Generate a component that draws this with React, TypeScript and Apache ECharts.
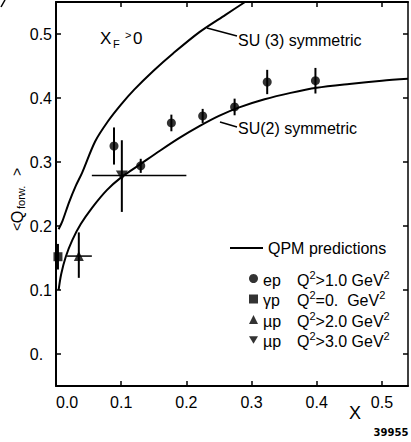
import { useEffect, useRef } from 'react';
import * as echarts from 'echarts';

const FONT = '"Liberation Sans", Arial, sans-serif';

const xTicks = [0, 0.1, 0.2, 0.3, 0.4, 0.5];
const yTicks = [0, 0.1, 0.2, 0.3, 0.4, 0.5];

// QPM predictions
const su3X = [0.004, 0.01, 0.02, 0.03, 0.04, 0.06, 0.08, 0.1, 0.12, 0.15, 0.18, 0.22, 0.26, 0.29];
const su3Y = [0.195, 0.208, 0.237, 0.262, 0.283, 0.332, 0.364, 0.39, 0.413, 0.443, 0.47, 0.503, 0.53, 0.55];
const su2X = [0.004, 0.008, 0.015, 0.025, 0.038, 0.055, 0.078, 0.1, 0.13, 0.16, 0.19, 0.22, 0.25, 0.28, 0.32, 0.36, 0.4, 0.45, 0.5, 0.54];
const su2Y = [0.1, 0.125, 0.152, 0.178, 0.203, 0.228, 0.256, 0.276, 0.297, 0.318, 0.338, 0.356, 0.372, 0.385, 0.398, 0.408, 0.416, 0.422, 0.427, 0.43];

// ep  Q2 > 1.0 GeV2
const epX = [0.089, 0.13, 0.177, 0.225, 0.274, 0.324, 0.398];
const epY = [0.325, 0.294, 0.361, 0.372, 0.386, 0.425, 0.427];
const epErr = [0.029, 0.011, 0.013, 0.011, 0.013, 0.019, 0.02];

// gamma p  Q2 = 0
const gpX = [0.003];
const gpY = [0.152];
const gpErr = [0.02];

// mu p  Q2 > 2.0
const mu2X = [0.035];
const mu2Y = [0.153];
const mu2XLo = [0.017];
const mu2XHi = [0.055];
const mu2YLo = [0.119];
const mu2YHi = [0.19];

// mu p  Q2 > 3.0
const mu3X = [0.101];
const mu3Y = [0.279];
const mu3XLo = [0.055];
const mu3XHi = [0.2];
const mu3YLo = [0.222];
const mu3YHi = [0.334];

const NAME_EP = 'ep|Q|>1.0 GeV';
const NAME_GP = 'γp|Q|=0.  GeV';
const NAME_MU2 = 'µp|Q|>2.0 GeV';
const NAME_MU3 = 'µp|Q|>3.0 GeV';

const DOWN_TRIANGLE = 'path://M0,0 L12,0 L6,10 Z';

export default function App() {
  const ref = useRef<HTMLDivElement>(null);

  useEffect(() => {
    if (!ref.current) return;
    const chart = echarts.init(ref.current, null, { renderer: 'svg' });

    const errData: number[][] = [];
    epX.forEach((x, i) => errData.push([x, epY[i], x, x, epY[i] - epErr[i], epY[i] + epErr[i]]));
    gpX.forEach((x, i) => errData.push([x, gpY[i], x, x, gpY[i] - gpErr[i], gpY[i] + gpErr[i]]));
    mu2X.forEach((x, i) => errData.push([x, mu2Y[i], mu2XLo[i], mu2XHi[i], mu2YLo[i], mu2YHi[i]]));
    mu3X.forEach((x, i) => errData.push([x, mu3Y[i], mu3XLo[i], mu3XHi[i], mu3YLo[i], mu3YHi[i]]));

    const black = '#000';
    const axisCommon = {
      type: 'value' as const,
      axisLine: { show: true, onZero: false, lineStyle: { color: black, width: 2 } },
      splitLine: { show: false },
    };

    const option: any = {
      animation: false,
      backgroundColor: '#fff',
      textStyle: { fontFamily: FONT, color: black },
      grid: { left: 56, right: 3, top: 2, bottom: 56, containLabel: false },
      xAxis: [
        {
          ...axisCommon,
          position: 'bottom',
          min: 0,
          max: 0.54,
          axisTick: { show: true, inside: true, length: 5, customValues: xTicks, lineStyle: { color: black, width: 1.5 } },
          axisLabel: {
            customValues: xTicks,
            formatter: (v: number) => v.toFixed(1),
            fontSize: 16,
            color: black,
            fontFamily: FONT,
            margin: 8,
            alignMinLabel: 'left',
          },
        },
        {
          ...axisCommon,
          position: 'top',
          min: 0,
          max: 0.54,
          axisTick: { show: true, inside: true, length: 5, customValues: xTicks, lineStyle: { color: black, width: 1.5 } },
          axisLabel: { show: false },
        },
      ],
      yAxis: [
        {
          ...axisCommon,
          position: 'left',
          min: -0.05,
          max: 0.55,
          axisTick: { show: true, inside: true, length: 5, customValues: yTicks, lineStyle: { color: black, width: 1.5 } },
          axisLabel: {
            customValues: yTicks,
            formatter: (v: number) => (Math.abs(v) < 1e-9 ? '0.  ' : v.toFixed(1)),
            fontSize: 16,
            color: black,
            fontFamily: FONT,
            margin: 4,
          },
        },
        {
          ...axisCommon,
          position: 'right',
          min: -0.05,
          max: 0.55,
          axisLine: { show: true, onZero: false, lineStyle: { color: black, width: 1.5 } },
          axisTick: { show: true, inside: true, length: 5, customValues: yTicks, lineStyle: { color: black, width: 1.5 } },
          axisLabel: { show: false },
        },
      ],
      legend: [
        {
          data: ['QPM predictions'],
          left: 230,
          top: 240,
          padding: 0,
          icon: 'rect',
          itemWidth: 33,
          itemHeight: 2,
          selectedMode: false,
          textStyle: { fontSize: 16, color: black, fontFamily: FONT },
        },
        {
          data: [NAME_EP, NAME_GP, NAME_MU2, NAME_MU3],
          orient: 'vertical',
          left: 249,
          top: 269,
          padding: 0,
          itemWidth: 9,
          itemHeight: 9,
          itemGap: 1.5,
          selectedMode: false,
          formatter: (name: string) => {
            const [p, q, r] = name.split('|');
            return `{a|${p}}{b|${q}}{s|2}{b|${r}}{s|2}`;
          },
          textStyle: {
            fontSize: 16,
            color: black,
            fontFamily: FONT,
            rich: {
              a: { width: 34, fontSize: 16, lineHeight: 19, color: black, fontFamily: FONT, verticalAlign: 'bottom' },
              b: { fontSize: 16, lineHeight: 19, color: black, fontFamily: FONT, verticalAlign: 'bottom' },
              s: { fontSize: 11, lineHeight: 11, color: black, fontFamily: FONT, verticalAlign: 'top' },
            },
          },
        },
      ],
      series: [
        {
          name: 'QPM predictions',
          type: 'line',
          data: su3X.map((x, i) => [x, su3Y[i]]),
          smooth: 0.3,
          showSymbol: false,
          symbol: 'none',
          lineStyle: { color: black, width: 2 },
          itemStyle: { color: black },
          z: 2,
        },
        {
          name: 'QPM predictions',
          type: 'line',
          data: su2X.map((x, i) => [x, su2Y[i]]),
          smooth: 0.3,
          showSymbol: false,
          symbol: 'none',
          lineStyle: { color: black, width: 2 },
          itemStyle: { color: black },
          z: 2,
        },
        {
          name: 'errors',
          type: 'custom',
          data: errData,
          encode: { x: 0, y: 1 },
          z: 3,
          renderItem: (_params: any, api: any) => {
            const x = api.value(0);
            const y = api.value(1);
            const xl = api.value(2);
            const xh = api.value(3);
            const yl = api.value(4);
            const yh = api.value(5);
            const children: any[] = [];
            if (yl !== yh) {
              const a = api.coord([x, yl]);
              const b = api.coord([x, yh]);
              children.push({ type: 'line', shape: { x1: a[0], y1: a[1], x2: b[0], y2: b[1] }, style: { stroke: black, lineWidth: 2 } });
            }
            if (xl !== xh) {
              const a = api.coord([xl, y]);
              const b = api.coord([xh, y]);
              children.push({ type: 'line', shape: { x1: a[0], y1: a[1], x2: b[0], y2: b[1] }, style: { stroke: black, lineWidth: 1.5 } });
            }
            return { type: 'group', children };
          },
        },
        {
          name: NAME_EP,
          type: 'scatter',
          data: epX.map((x, i) => [x, epY[i]]),
          symbol: 'circle',
          symbolSize: 9,
          itemStyle: { color: black },
          z: 4,
        },
        {
          name: NAME_GP,
          type: 'scatter',
          data: gpX.map((x, i) => [x, gpY[i]]),
          symbol: 'rect',
          symbolSize: 9,
          itemStyle: { color: black },
          z: 4,
        },
        {
          name: NAME_MU2,
          type: 'scatter',
          data: mu2X.map((x, i) => [x, mu2Y[i]]),
          symbol: 'triangle',
          symbolSize: 10,
          itemStyle: { color: black },
          z: 4,
        },
        {
          name: NAME_MU3,
          type: 'scatter',
          data: mu3X.map((x, i) => [x, mu3Y[i]]),
          symbol: DOWN_TRIANGLE,
          symbolSize: [12, 10],
          itemStyle: { color: black },
          z: 4,
        },
      ],
      graphic: [
        { type: 'line', shape: { x1: 5, y1: 0, x2: 1, y2: 7 }, style: { stroke: black, lineWidth: 1.5 } },
        { type: 'text', x: 100, y: 38, style: { text: 'X', font: `17px ${FONT}`, fill: black, verticalAlign: 'middle' } },
        { type: 'text', x: 113, y: 44, style: { text: 'F', font: `11px ${FONT}`, fill: black, verticalAlign: 'middle' } },
        { type: 'text', x: 125, y: 35, style: { text: '>', font: `11px ${FONT}`, fill: black, verticalAlign: 'middle' } },
        { type: 'text', x: 133, y: 38, style: { text: '0', font: `17px ${FONT}`, fill: black, verticalAlign: 'middle' } },
        { type: 'line', shape: { x1: 207, y1: 28, x2: 237, y2: 36 }, style: { stroke: black, lineWidth: 1.5 } },
        { type: 'text', x: 238, y: 40, style: { text: 'SU (3) symmetric', font: `16px ${FONT}`, fill: black, verticalAlign: 'middle' } },
        { type: 'line', shape: { x1: 220, y1: 122, x2: 237, y2: 127 }, style: { stroke: black, lineWidth: 1.5 } },
        { type: 'text', x: 238, y: 128, style: { text: 'SU(2) symmetric', font: `16px ${FONT}`, fill: black, verticalAlign: 'middle' } },
        {
          type: 'group',
          x: 17,
          y: 200,
          rotation: Math.PI / 2,
          children: [
            { type: 'text', x: -27, y: 0, style: { text: '<', font: `14px ${FONT}`, fill: black, align: 'center', verticalAlign: 'middle' } },
            { type: 'text', x: -17, y: 0, style: { text: 'Q', font: `16px ${FONT}`, fill: black, align: 'center', verticalAlign: 'middle' } },
            { type: 'text', x: -9, y: 4, style: { text: 'forw.', font: `11px ${FONT}`, fill: black, align: 'left', verticalAlign: 'middle' } },
            { type: 'text', x: 28, y: 0, style: { text: '>', font: `14px ${FONT}`, fill: black, align: 'center', verticalAlign: 'middle' } },
          ],
        },
        { type: 'text', x: 355, y: 413, style: { text: 'X', font: `18px ${FONT}`, fill: black, align: 'center', verticalAlign: 'middle' } },
        { type: 'text', x: 391, y: 432, style: { text: '39955', font: `bold 10px "DejaVu Sans", sans-serif`, fill: black, align: 'center', verticalAlign: 'middle' } },
      ],
    };

    chart.setOption(option);
    return () => chart.dispose();
  }, []);

  return <div ref={ref} style={{ position: 'fixed', left: 0, top: 0, width: 411, height: 442, background: '#fff' }} />;
}
